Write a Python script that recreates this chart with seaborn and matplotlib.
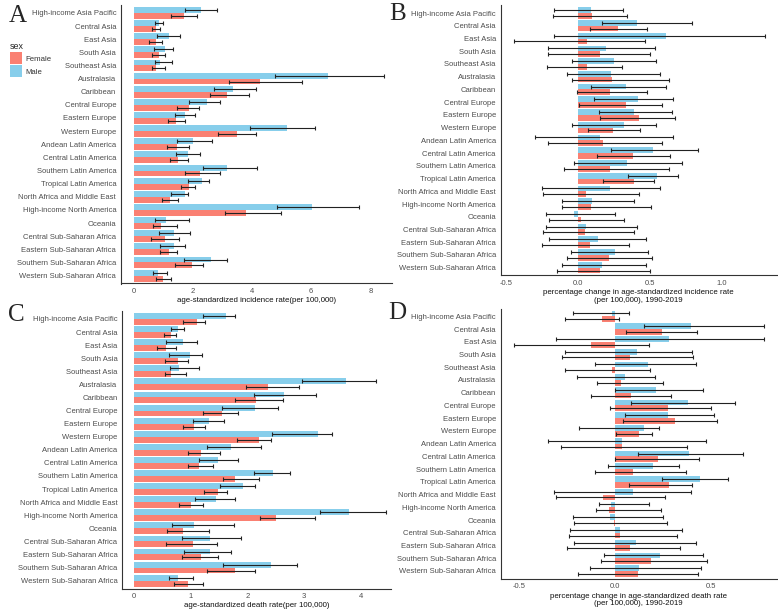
import numpy as np
import pandas as pd
import matplotlib
matplotlib.use("Agg")
import matplotlib.pyplot as plt
import seaborn as sns
from matplotlib.patches import Patch

regions = ["High-income Asia Pacific", "Central Asia", "East Asia", "South Asia", "Southeast Asia",
           "Australasia", "Caribbean", "Central Europe", "Eastern Europe", "Western Europe",
           "Andean Latin America", "Central Latin America", "Southern Latin America",
           "Tropical Latin America", "North Africa and Middle East", "High-income North America",
           "Oceania", "Central Sub-Saharan Africa", "Eastern Sub-Saharan Africa",
           "Southern Sub-Saharan Africa", "Western Sub-Saharan Africa"]

# Panel A: incidence rate
inc_male    = [2.27, 0.87, 1.20, 1.06, 0.90, 6.56, 3.37, 2.48, 1.75, 5.19, 2.00, 1.84, 3.16, 2.30, 1.74, 6.03, 1.09, 1.36, 1.36, 2.62, 0.81]
inc_male_lo = [1.75, 0.73, 0.80, 0.68, 0.71, 4.76, 2.71, 1.87, 1.39, 3.93, 1.48, 1.43, 2.36, 1.83, 1.26, 4.85, 0.71, 0.87, 0.89, 1.69, 0.64]
inc_male_hi = [2.80, 1.00, 1.57, 1.32, 1.29, 8.47, 4.12, 2.91, 2.07, 6.12, 2.64, 2.24, 4.16, 2.55, 1.83, 7.61, 1.86, 1.91, 1.75, 3.15, 1.12]
inc_fem     = [1.71, 0.74, 0.74, 0.85, 0.76, 4.27, 3.17, 1.88, 1.44, 3.48, 1.47, 1.51, 2.25, 1.87, 1.24, 3.80, 0.94, 1.07, 1.20, 1.98, 1.00]
inc_fem_lo  = [1.27, 0.62, 0.51, 0.62, 0.62, 3.21, 2.59, 1.48, 1.15, 2.84, 1.13, 1.24, 1.75, 1.59, 0.95, 3.09, 0.65, 0.59, 0.89, 1.40, 0.74]
inc_fem_hi  = [2.14, 0.88, 0.96, 1.05, 1.05, 5.69, 3.89, 2.21, 1.72, 4.13, 1.87, 1.84, 2.91, 2.06, 1.50, 4.98, 1.48, 1.52, 1.48, 2.36, 1.27]

# Panel B: percentage change in incidence rate
pci_male    = [0.088, 0.412, 0.613, 0.194, 0.252, 0.227, 0.331, 0.419, 0.387, 0.317, 0.153, 0.523, 0.340, 0.546, 0.220, 0.097, -0.025, 0.053, 0.139, 0.255, 0.164]
pci_male_lo = [-0.170, 0.169, -0.169, -0.208, -0.044, -0.079, 0.093, 0.113, 0.148, -0.044, -0.296, 0.227, -0.025, 0.350, -0.250, -0.109, -0.225, -0.220, -0.201, -0.049, -0.113]
pci_male_hi = [0.315, 0.789, 1.296, 0.535, 0.539, 0.572, 0.613, 0.662, 0.650, 0.539, 0.662, 0.833, 0.720, 0.694, 0.572, 0.387, 0.255, 0.407, 0.470, 0.484, 0.475]
pci_fem     = [0.095, 0.278, 0.062, 0.150, 0.062, 0.236, 0.222, 0.336, 0.421, 0.241, 0.176, 0.384, 0.222, 0.391, 0.053, 0.093, 0.019, 0.046, 0.081, 0.215, 0.153]
pci_fem_lo  = [-0.176, 0.081, -0.447, -0.208, -0.218, -0.044, -0.005, 0.009, 0.153, 0.067, -0.208, 0.134, -0.095, 0.171, -0.241, -0.109, -0.204, -0.241, -0.252, -0.074, -0.144]
pci_fem_hi  = [0.343, 0.479, 0.465, 0.498, 0.303, 0.630, 0.479, 0.581, 0.671, 0.433, 0.581, 0.641, 0.630, 0.530, 0.426, 0.507, 0.322, 0.391, 0.356, 0.516, 0.498]

# Panel C: death rate
dth_male    = [1.62, 0.77, 0.86, 0.98, 0.79, 3.74, 2.64, 2.14, 1.32, 3.24, 1.71, 1.49, 2.46, 1.93, 1.45, 3.79, 1.06, 1.35, 1.35, 2.41, 0.77]
dth_male_lo = [1.21, 0.66, 0.57, 0.62, 0.64, 2.96, 2.12, 1.55, 1.05, 2.43, 1.28, 1.15, 2.11, 1.52, 1.07, 3.28, 0.67, 0.85, 0.88, 1.57, 0.61]
dth_male_hi = [1.78, 0.89, 1.11, 1.20, 1.15, 4.27, 3.21, 2.54, 1.59, 3.49, 2.25, 1.83, 2.76, 2.14, 1.78, 4.44, 1.76, 1.88, 1.71, 2.88, 1.05]
dth_fem     = [1.12, 0.66, 0.56, 0.77, 0.66, 2.36, 2.15, 1.56, 1.06, 2.20, 1.19, 1.15, 1.78, 1.48, 1.01, 2.51, 0.86, 1.04, 1.19, 1.79, 0.96]
dth_fem_lo  = [0.86, 0.53, 0.41, 0.55, 0.54, 1.97, 1.78, 1.22, 0.86, 1.82, 0.95, 0.96, 1.57, 1.24, 0.79, 2.22, 0.58, 0.56, 0.85, 1.28, 0.70]
dth_fem_hi  = [1.25, 0.74, 0.74, 0.96, 0.91, 2.91, 2.63, 1.83, 1.25, 2.41, 1.51, 1.39, 2.21, 1.65, 1.21, 3.20, 1.32, 1.46, 1.48, 2.13, 1.21]

# Panel D: percentage change in death rate
pcd_male    = [-0.014, 0.396, 0.281, 0.115, 0.171, 0.051, 0.215, 0.380, 0.276, 0.150, 0.037, 0.387, 0.199, 0.445, 0.094, -0.021, -0.026, 0.024, 0.108, 0.234, 0.127]
pcd_male_lo = [-0.220, 0.152, -0.307, -0.260, -0.103, -0.200, -0.002, 0.084, 0.054, -0.187, -0.349, 0.120, -0.035, 0.246, -0.321, -0.084, -0.223, -0.234, -0.216, -0.058, -0.129]
pcd_male_hi = [0.073, 0.778, 0.782, 0.401, 0.422, 0.209, 0.462, 0.627, 0.520, 0.230, 0.475, 0.668, 0.337, 0.590, 0.396, 0.175, 0.251, 0.349, 0.422, 0.462, 0.452]
pcd_fem     = [-0.070, 0.244, -0.127, 0.077, -0.017, 0.030, 0.084, 0.276, 0.311, 0.124, 0.037, 0.222, 0.096, 0.281, -0.063, -0.033, -0.007, 0.024, 0.077, 0.187, 0.122]
pcd_fem_lo  = [-0.264, 0.059, -0.531, -0.276, -0.264, -0.094, -0.124, -0.028, 0.042, 0.005, -0.284, -0.002, -0.106, 0.075, -0.309, -0.101, -0.213, -0.244, -0.253, -0.075, -0.192]
pcd_fem_hi  = [0.019, 0.431, 0.176, 0.410, 0.185, 0.253, 0.293, 0.501, 0.534, 0.192, 0.375, 0.440, 0.373, 0.401, 0.260, 0.239, 0.272, 0.323, 0.340, 0.483, 0.436]

sexes = ["Male", "Female"]
colors = {"Female": "#FA8072", "Male": "#87CEEB"}

W, H = 778, 609
fig = plt.figure(figsize=(W / 100, H / 100), dpi=100)
sns.set_style("white")
plt.rcParams["font.family"] = ["Liberation Sans", "DejaVu Sans"]

def px_axes(left, top, right, bottom):
    return fig.add_axes([left / W, 1 - bottom / H, (right - left) / W, (bottom - top) / H])

def panel(box, male, mlo, mhi, fem, flo, fhi, xlim, ticks, ticklabels, xlabel):
    ax = px_axes(*box)
    df = pd.DataFrame({
        "region": regions * 2,
        "sex": ["Male"] * len(regions) + ["Female"] * len(regions),
        "value": list(male) + list(fem),
    })
    sns.barplot(data=df, y="region", x="value", hue="sex", hue_order=sexes, order=regions,
                palette=colors, orient="h", width=0.9, gap=0, errorbar=None, saturation=1,
                legend=False, linewidth=0, edgecolor="none", ax=ax)
    bounds = {"Male": (male, mlo, mhi), "Female": (fem, flo, fhi)}
    for cont, s in zip(ax.containers, sexes):
        v, lo, hi = (np.asarray(a, float) for a in bounds[s])
        ys = np.array([p.get_y() + p.get_height() / 2 for p in cont.patches])
        ax.errorbar(v, ys, xerr=[np.abs(v - lo), np.abs(hi - v)], fmt="none",
                    ecolor="#222222", elinewidth=0.8, capsize=1.6, capthick=0.8, zorder=5)
    ax.set_xlim(*xlim)
    ax.set_ylim(len(regions) - 0.4, -0.6)
    ax.set_xticks(ticks)
    ax.set_xticklabels(ticklabels)
    ax.set_ylabel("")
    ax.set_xlabel(xlabel, fontsize=5.7, color="#111111", labelpad=1.5, linespacing=1.1)
    ax.tick_params(axis="both", labelsize=5.5, labelcolor="#4D4D4D", color="#333333",
                   length=2, width=0.6, pad=1.5)
    for sp in ["top", "right"]:
        ax.spines[sp].set_visible(False)
    for sp in ["left", "bottom"]:
        ax.spines[sp].set_color("#333333")
        ax.spines[sp].set_linewidth(0.8)
    ax.set_facecolor("white")
    return ax

panel((121, 5, 391.7, 283.5), inc_male, inc_male_lo, inc_male_hi, inc_fem, inc_fem_lo, inc_fem_hi,
      (-0.427, 8.72), [0, 2, 4, 6, 8], ["0", "2", "4", "6", "8"],
      "age-standardized incidence rate(per 100,000)")
panel((500.7, 5.4, 776.7, 275.3), pci_male, pci_male_lo, pci_male_hi, pci_fem, pci_fem_lo, pci_fem_hi,
      (-0.537, 1.38), [-0.5, 0, 0.5, 1.0], ["-0.5", "0.0", "0.5", "1.0"],
      "percentage change in age-standardized incidence rate\n(per 100,000), 1990-2019")
panel((122.3, 311.1, 391, 588.5), dth_male, dth_male_lo, dth_male_hi, dth_fem, dth_fem_lo, dth_fem_hi,
      (-0.206, 4.535), [0, 1, 2, 3, 4], ["0", "1", "2", "3", "4"],
      "age-standardized death rate(per 100,000)")
panel((500.7, 308.7, 776.7, 578.6), pcd_male, pcd_male_lo, pcd_male_hi, pcd_fem, pcd_fem_lo, pcd_fem_hi,
      (-0.599, 0.846), [-0.5, 0, 0.5], ["-0.5", "0.0", "0.5"],
      "percentage change in age-standardized death rate\n(per 100,000), 1990-2019")

for letter, x, y in [("A", 9, 5), ("B", 389, 3), ("C", 8, 304), ("D", 388, 302)]:
    fig.text(x / W, 1 - y / H, letter, fontsize=18, family="Liberation Serif", va="top", ha="left")

handles = [Patch(facecolor=colors["Female"], edgecolor="none", label="Female"),
           Patch(facecolor=colors["Male"], edgecolor="none", label="Male")]
leg = fig.legend(handles=handles, title="sex", loc="upper left", bbox_to_anchor=(7 / W, 1 - 39 / H),
                 frameon=False, fontsize=5.6, title_fontsize=6.4, handlelength=1.5, handleheight=2.0,
                 handletextpad=0.5, labelspacing=0.15, borderaxespad=0)
leg._legend_box.align = "left"
for t in leg.get_texts():
    t.set_color("#333333")

fig.savefig("out.png", dpi=100, facecolor="white")
